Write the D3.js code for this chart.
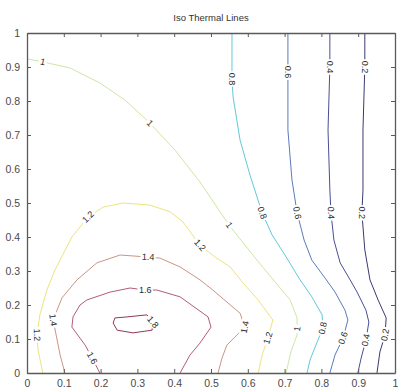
<!DOCTYPE html>
<html>
<head>
<meta charset="utf-8">
<script src="https://cdn.jsdelivr.net/npm/d3@7"></script>
<style>
  body { margin: 0; background: #fff; }
  svg { display: block; }
</style>
</head>
<body>
<svg id="chart" width="401" height="392"></svg>
<script>
// ---- data ----
const chartTitle = "Iso Thermal Lines";
const xTicks = [0, 0.1, 0.2, 0.3, 0.4, 0.5, 0.6, 0.7, 0.8, 0.9, 1];
const xTickLabels = ["0", "0.1", "0.2", "0.3", "0.4", "0.5", "0.6", "0.7", "0.8", "0.9", "1"];
const yTicks = [0, 0.1, 0.2, 0.3, 0.4, 0.5, 0.6, 0.7, 0.8, 0.9, 1];
const yTickLabels = ["0", "0.1", "0.2", "0.3", "0.4", "0.5", "0.6", "0.7", "0.8", "0.9", "1"];

const levels = [0.2, 0.4, 0.6, 0.8, 1.0, 1.2, 1.4, 1.6, 1.8];
const levelColors = ["#3a3a72", "#484f94", "#5a7cbc", "#62c8da", "#cfe6a4",
                     "#ece47e", "#cc9484", "#b45c78", "#93385a"];

// isotherm polylines, [x, y] in plot units
const iso02 = [[0.918,1.0],[0.918,0.900],[0.913,0.715],[0.913,0.538],[0.910,0.471],[0.918,0.362],
  [0.932,0.274],[0.954,0.215],[0.976,0.162],[0.973,0.112],[0.959,0.062],[0.951,0.0]];
const iso04 = [[0.823,1.0],[0.823,0.900],[0.818,0.715],[0.823,0.538],[0.826,0.471],[0.834,0.391],
  [0.851,0.324],[0.878,0.274],[0.897,0.238],[0.921,0.185],[0.929,0.150],[0.921,0.097],
  [0.908,0.044],[0.899,0.0]];
const iso06 = [[0.709,1.0],[0.709,0.885],[0.709,0.715],[0.720,0.568],[0.734,0.471],[0.753,0.391],
  [0.774,0.332],[0.810,0.279],[0.837,0.238],[0.864,0.185],[0.872,0.156],[0.859,0.103],
  [0.837,0.053],[0.823,0.0]];
const iso08 = [[0.557,1.0],[0.557,0.865],[0.560,0.812],[0.579,0.685],[0.606,0.582],[0.639,0.471],
  [0.666,0.406],[0.701,0.347],[0.742,0.274],[0.774,0.224],[0.802,0.171],[0.804,0.132],
  [0.785,0.082],[0.769,0.038],[0.761,0.0]];
const iso10 = [[0.0,0.924],[0.043,0.915],[0.117,0.897],[0.198,0.853],[0.266,0.803],[0.334,0.735],
  [0.402,0.656],[0.470,0.562],[0.549,0.435],[0.625,0.332],[0.674,0.268],[0.715,0.215],
  [0.734,0.162],[0.734,0.112],[0.717,0.062],[0.704,0.0]];
const iso12 = [[0.043,0.0],[0.030,0.068],[0.027,0.112],[0.035,0.171],[0.054,0.244],[0.076,0.303],
  [0.122,0.400],[0.166,0.459],[0.207,0.488],[0.261,0.500],[0.334,0.494],[0.389,0.474],
  [0.424,0.444],[0.470,0.376],[0.511,0.341],[0.552,0.312],[0.587,0.265],[0.628,0.215],
  [0.668,0.156],[0.655,0.103],[0.639,0.053],[0.628,0.0]];
const iso14 = [[0.103,0.0],[0.090,0.053],[0.071,0.156],[0.095,0.221],[0.136,0.274],[0.190,0.324],
  [0.253,0.347],[0.329,0.341],[0.361,0.338],[0.416,0.312],[0.470,0.274],[0.505,0.244],
  [0.546,0.206],[0.579,0.176],[0.592,0.135],[0.565,0.106],[0.543,0.082],[0.530,0.044],[0.519,0.0]];
const iso16 = [[0.198,0.0],[0.177,0.044],[0.158,0.082],[0.122,0.135],[0.125,0.165],[0.144,0.200],
  [0.163,0.215],[0.226,0.238],[0.280,0.250],[0.321,0.244],[0.353,0.244],[0.416,0.224],
  [0.492,0.165],[0.500,0.135],[0.470,0.088],[0.443,0.053],[0.416,0.0]];
const iso18 = [[0.234,0.147],[0.239,0.162],[0.272,0.165],[0.326,0.171],[0.342,0.150],[0.340,0.126],
  [0.288,0.118],[0.245,0.126],[0.234,0.147]];
const isoLines = [iso02, iso04, iso06, iso08, iso10, iso12, iso14, iso16, iso18];

// inline contour labels: [level, x, y, rotation in degrees]
const labelSpots = [
  [1.0, 0.043, 0.915, 12], [1.0, 0.334, 0.735, 45], [1.0, 0.549, 0.435, 54], [1.0, 0.734, 0.130, -80],
  [0.8, 0.557, 0.865, 90], [0.8, 0.639, 0.471, 70], [0.8, 0.804, 0.132, -79],
  [0.6, 0.709, 0.885, 90], [0.6, 0.734, 0.471, 79], [0.6, 0.859, 0.103, -70],
  [0.4, 0.823, 0.900, 90], [0.4, 0.826, 0.471, 88], [0.4, 0.921, 0.097, -78],
  [0.2, 0.918, 0.900, 90], [0.2, 0.910, 0.471, 90], [0.2, 0.973, 0.112, -80],
  [1.2, 0.166, 0.459, -44], [1.2, 0.027, 0.112, 88], [1.2, 0.470, 0.376, 48], [1.2, 0.655, 0.103, -73],
  [1.4, 0.071, 0.156, 82], [1.4, 0.329, 0.341, 3], [1.4, 0.592, 0.135, -78],
  [1.6, 0.321, 0.244, 0], [1.6, 0.177, 0.044, 62],
  [1.8, 0.342, 0.150, 50]
];

// ---- layout ----
const svg = d3.select("#chart");
const plot = { left: 27, top: 33, right: 395, bottom: 373 };
const x = d3.scaleLinear().domain([0, 1]).range([plot.left, plot.right]);
const y = d3.scaleLinear().domain([0, 1]).range([plot.bottom, plot.top]);

svg.append("rect").attr("width", 401).attr("height", 392).attr("fill", "#fff");

svg.append("defs").append("clipPath").attr("id", "plotClip")
  .append("rect")
  .attr("x", plot.left).attr("y", plot.top)
  .attr("width", plot.right - plot.left).attr("height", plot.bottom - plot.top);

// ---- isotherms ----
const line = d3.line().x(d => x(d[0])).y(d => y(d[1]));
svg.append("g").attr("clip-path", "url(#plotClip)")
  .selectAll("path")
  .data(isoLines)
  .join("path")
  .attr("d", line)
  .attr("fill", "none")
  .attr("stroke", (d, i) => levelColors[i])
  .attr("stroke-width", 1)
  .attr("stroke-linejoin", "round");

// ---- contour labels (white backing breaks the line like clabel) ----
const lab = svg.append("g")
  .selectAll("g")
  .data(labelSpots)
  .join("g")
  .attr("transform", d => `translate(${x(d[1])},${y(d[2])}) rotate(${d[3]})`);
lab.append("text")
  .attr("text-anchor", "middle")
  .attr("dominant-baseline", "central")
  .attr("font-family", "Liberation Sans, Arial, sans-serif")
  .attr("font-size", 9)
  .attr("fill", "#2a2a2a")
  .text(d => String(d[0]));
lab.each(function () {
  const g = d3.select(this);
  const bb = g.select("text").node().getBBox();
  g.insert("rect", "text")
    .attr("x", bb.x - 1.5).attr("y", bb.y + 0.5)
    .attr("width", bb.width + 3).attr("height", bb.height - 1)
    .attr("fill", "#fff");
});

// ---- axes (ticks point inward on all four sides) ----
const axisColor = "#5a5a5a";
const fontFam = "Liberation Sans, Arial, sans-serif";

const gBottom = svg.append("g").attr("transform", `translate(0,${plot.bottom})`)
  .call(d3.axisBottom(x).tickValues(xTicks).tickFormat((d, i) => xTickLabels[i])
    .tickSizeInner(-4).tickSizeOuter(0).tickPadding(7));
const gTop = svg.append("g").attr("transform", `translate(0,${plot.top})`)
  .call(d3.axisTop(x).tickValues(xTicks).tickFormat("").tickSizeInner(-4).tickSizeOuter(0));
const gLeft = svg.append("g").attr("transform", `translate(${plot.left},0)`)
  .call(d3.axisLeft(y).tickValues(yTicks).tickFormat((d, i) => yTickLabels[i])
    .tickSizeInner(-4).tickSizeOuter(0).tickPadding(7));
const gRight = svg.append("g").attr("transform", `translate(${plot.right},0)`)
  .call(d3.axisRight(y).tickValues(yTicks).tickFormat("").tickSizeInner(-4).tickSizeOuter(0));

[gBottom, gTop, gLeft, gRight].forEach(g => {
  g.select(".domain").attr("stroke", axisColor).attr("stroke-width", 1.3);
  g.selectAll(".tick line").attr("stroke", axisColor).attr("stroke-width", 1);
  g.selectAll(".tick text").attr("fill", "#4a4a4a").attr("font-family", fontFam).attr("font-size", 10.5);
});

// ---- title ----
svg.append("text")
  .attr("x", (plot.left + plot.right) / 2)
  .attr("y", 21)
  .attr("text-anchor", "middle")
  .attr("font-family", fontFam)
  .attr("font-size", 9.5)
  .attr("fill", "#333")
  .text(chartTitle);
</script>
</body>
</html>
